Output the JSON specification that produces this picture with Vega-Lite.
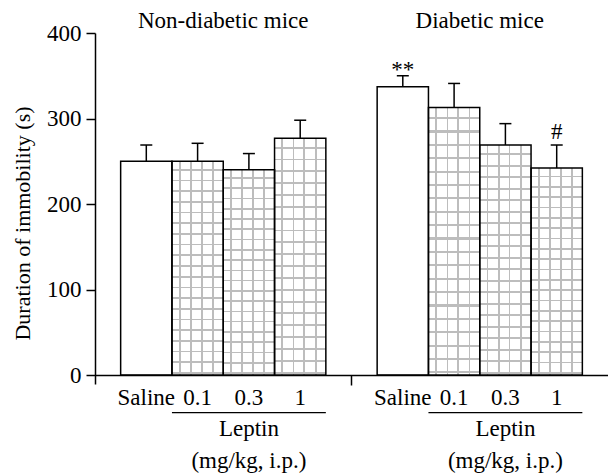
{
  "$schema": "https://vega.github.io/schema/vega-lite/v6.json",
  "width": 513,
  "height": 351,
  "autosize": {"type": "none"},
  "padding": {"left": 95, "top": 33, "right": 0, "bottom": 90},
  "background": "white",
  "config": {
    "font": "Liberation Serif",
    "view": {"stroke": null},
    "text": {"font": "Liberation Serif", "fontSize": 23, "color": "black"}
  },
  "datasets": {
    "bars": [
      {"key": "Non-diabetic: Saline", "group": "Non-diabetic", "treatment": "Saline", "mean": 250, "upper": 269},
      {"key": "Non-diabetic: 0.1", "group": "Non-diabetic", "treatment": "0.1", "mean": 250, "upper": 271},
      {"key": "Non-diabetic: 0.3", "group": "Non-diabetic", "treatment": "0.3", "mean": 240, "upper": 259},
      {"key": "Non-diabetic: 1", "group": "Non-diabetic", "treatment": "1", "mean": 277, "upper": 298},
      {"key": "Diabetic: Saline", "group": "Diabetic", "treatment": "Saline", "mean": 337, "upper": 350, "sig": "**"},
      {"key": "Diabetic: 0.1", "group": "Diabetic", "treatment": "0.1", "mean": 313, "upper": 341},
      {"key": "Diabetic: 0.3", "group": "Diabetic", "treatment": "0.3", "mean": 269, "upper": 294},
      {"key": "Diabetic: 1", "group": "Diabetic", "treatment": "1", "mean": 242, "upper": 269, "sig": "#"}
    ],
    "groups": [
      {"title": "Non-diabetic mice", "first": "Non-diabetic: 0.1", "middle": "Non-diabetic: 0.3", "last": "Non-diabetic: 1", "drug": "Leptin", "unit": "(mg/kg, i.p.)"},
      {"title": "Diabetic mice", "first": "Diabetic: 0.1", "middle": "Diabetic: 0.3", "last": "Diabetic: 1", "drug": "Leptin", "unit": "(mg/kg, i.p.)"}
    ]
  },
  "layer": [
    {
      "data": {"name": "bars"},
      "transform": [{"filter": "datum.treatment != 'Saline'"}],
      "mark": {
        "type": "bar",
        "strokeWidth": 0,
        "fill": {
          "gradient": "linear", "x1": 0, "y1": 0, "x2": 0, "y2": 1,
          "stops": [
            {"offset": 0, "color": "#ffffff"},
            {"offset": 0.036, "color": "#ffffff"}, {"offset": 0.036, "color": "#bdbdbd"}, {"offset": 0.044, "color": "#bdbdbd"}, {"offset": 0.044, "color": "#ffffff"},
            {"offset": 0.086, "color": "#ffffff"}, {"offset": 0.086, "color": "#bdbdbd"}, {"offset": 0.094, "color": "#bdbdbd"}, {"offset": 0.094, "color": "#ffffff"},
            {"offset": 0.136, "color": "#ffffff"}, {"offset": 0.136, "color": "#bdbdbd"}, {"offset": 0.144, "color": "#bdbdbd"}, {"offset": 0.144, "color": "#ffffff"},
            {"offset": 0.186, "color": "#ffffff"}, {"offset": 0.186, "color": "#bdbdbd"}, {"offset": 0.194, "color": "#bdbdbd"}, {"offset": 0.194, "color": "#ffffff"},
            {"offset": 0.236, "color": "#ffffff"}, {"offset": 0.236, "color": "#bdbdbd"}, {"offset": 0.244, "color": "#bdbdbd"}, {"offset": 0.244, "color": "#ffffff"},
            {"offset": 0.286, "color": "#ffffff"}, {"offset": 0.286, "color": "#bdbdbd"}, {"offset": 0.294, "color": "#bdbdbd"}, {"offset": 0.294, "color": "#ffffff"},
            {"offset": 0.336, "color": "#ffffff"}, {"offset": 0.336, "color": "#bdbdbd"}, {"offset": 0.344, "color": "#bdbdbd"}, {"offset": 0.344, "color": "#ffffff"},
            {"offset": 0.386, "color": "#ffffff"}, {"offset": 0.386, "color": "#bdbdbd"}, {"offset": 0.394, "color": "#bdbdbd"}, {"offset": 0.394, "color": "#ffffff"},
            {"offset": 0.436, "color": "#ffffff"}, {"offset": 0.436, "color": "#bdbdbd"}, {"offset": 0.444, "color": "#bdbdbd"}, {"offset": 0.444, "color": "#ffffff"},
            {"offset": 0.486, "color": "#ffffff"}, {"offset": 0.486, "color": "#bdbdbd"}, {"offset": 0.494, "color": "#bdbdbd"}, {"offset": 0.494, "color": "#ffffff"},
            {"offset": 0.536, "color": "#ffffff"}, {"offset": 0.536, "color": "#bdbdbd"}, {"offset": 0.544, "color": "#bdbdbd"}, {"offset": 0.544, "color": "#ffffff"},
            {"offset": 0.586, "color": "#ffffff"}, {"offset": 0.586, "color": "#bdbdbd"}, {"offset": 0.594, "color": "#bdbdbd"}, {"offset": 0.594, "color": "#ffffff"},
            {"offset": 0.636, "color": "#ffffff"}, {"offset": 0.636, "color": "#bdbdbd"}, {"offset": 0.644, "color": "#bdbdbd"}, {"offset": 0.644, "color": "#ffffff"},
            {"offset": 0.686, "color": "#ffffff"}, {"offset": 0.686, "color": "#bdbdbd"}, {"offset": 0.694, "color": "#bdbdbd"}, {"offset": 0.694, "color": "#ffffff"},
            {"offset": 0.736, "color": "#ffffff"}, {"offset": 0.736, "color": "#bdbdbd"}, {"offset": 0.744, "color": "#bdbdbd"}, {"offset": 0.744, "color": "#ffffff"},
            {"offset": 0.786, "color": "#ffffff"}, {"offset": 0.786, "color": "#bdbdbd"}, {"offset": 0.794, "color": "#bdbdbd"}, {"offset": 0.794, "color": "#ffffff"},
            {"offset": 0.836, "color": "#ffffff"}, {"offset": 0.836, "color": "#bdbdbd"}, {"offset": 0.844, "color": "#bdbdbd"}, {"offset": 0.844, "color": "#ffffff"},
            {"offset": 0.886, "color": "#ffffff"}, {"offset": 0.886, "color": "#bdbdbd"}, {"offset": 0.894, "color": "#bdbdbd"}, {"offset": 0.894, "color": "#ffffff"},
            {"offset": 0.936, "color": "#ffffff"}, {"offset": 0.936, "color": "#bdbdbd"}, {"offset": 0.944, "color": "#bdbdbd"}, {"offset": 0.944, "color": "#ffffff"},
            {"offset": 0.986, "color": "#ffffff"}, {"offset": 0.986, "color": "#bdbdbd"}, {"offset": 0.994, "color": "#bdbdbd"}, {"offset": 0.994, "color": "#ffffff"},
            {"offset": 1, "color": "#ffffff"}
          ]
        }
      },
      "encoding": {
        "x": {
          "field": "key", "type": "nominal", "title": null,
          "scale": {
            "domain": ["Non-diabetic: Saline", "Non-diabetic: 0.1", "Non-diabetic: 0.3", "Non-diabetic: 1", "gap", "Diabetic: Saline", "Diabetic: 0.1", "Diabetic: 0.3", "Diabetic: 1"],
            "paddingInner": 0, "paddingOuter": 0.5
          },
          "axis": {
            "title": null,
            "labelExpr": "datum.value == 'gap' ? '' : split(datum.value, ': ')[1]",
            "labelFont": "Liberation Serif", "labelFontSize": 23, "labelColor": "black",
            "labelAngle": 0, "labelPadding": 1, "labelOverlap": false, "labelFlush": false,
            "tickSize": 10, "tickWidth": 1.5, "tickColor": "black",
            "tickOpacity": {"condition": {"test": "datum.value == 'gap'", "value": 1}, "value": 0},
            "domainColor": "black", "domainWidth": 1.5, "offset": -9, "grid": false
          }
        },
        "y": {
          "field": "mean", "type": "quantitative", "title": "Duration of immobility (s)",
          "scale": {"domain": [-10.5, 400], "nice": false, "zero": false},
          "axis": {
            "title": "Duration of immobility (s)",
            "values": [0, 100, 200, 300, 400],
            "tickSize": 9, "tickWidth": 1.5, "tickColor": "black",
            "domainColor": "black", "domainWidth": 1.5,
            "labelFont": "Liberation Serif", "labelFontSize": 23, "labelPadding": 5, "labelColor": "black",
            "titleFont": "Liberation Serif", "titleFontSize": 22, "titleFontWeight": "normal", "titleColor": "black", "titlePadding": 12,
            "titleY": 190,
            "grid": false
          }
        },
        "y2": {"datum": 0}
      }
    },
    {
      "data": {"name": "bars"},
      "transform": [{"filter": "datum.treatment != 'Saline'"}],
      "mark": {
        "type": "bar",
        "strokeWidth": 0,
        "fill": {
          "gradient": "linear", "x1": 0, "y1": 0, "x2": 1, "y2": 0,
          "stops": [
            {"offset": 0, "color": "rgba(255,255,255,0)"},
            {"offset": 0.132, "color": "rgba(255,255,255,0)"}, {"offset": 0.132, "color": "#bdbdbd"}, {"offset": 0.168, "color": "#bdbdbd"}, {"offset": 0.168, "color": "rgba(255,255,255,0)"},
            {"offset": 0.352, "color": "rgba(255,255,255,0)"}, {"offset": 0.352, "color": "#bdbdbd"}, {"offset": 0.388, "color": "#bdbdbd"}, {"offset": 0.388, "color": "rgba(255,255,255,0)"},
            {"offset": 0.562, "color": "rgba(255,255,255,0)"}, {"offset": 0.562, "color": "#bdbdbd"}, {"offset": 0.598, "color": "#bdbdbd"}, {"offset": 0.598, "color": "rgba(255,255,255,0)"},
            {"offset": 0.782, "color": "rgba(255,255,255,0)"}, {"offset": 0.782, "color": "#bdbdbd"}, {"offset": 0.818, "color": "#bdbdbd"}, {"offset": 0.818, "color": "rgba(255,255,255,0)"},
            {"offset": 1, "color": "rgba(255,255,255,0)"}
          ]
        }
      },
      "encoding": {
        "x": {"field": "key", "type": "nominal", "title": null},
        "y": {"field": "mean", "type": "quantitative", "title": "Duration of immobility (s)"},
        "y2": {"datum": 0}
      }
    },
    {
      "data": {"name": "bars"},
      "mark": {"type": "bar", "fill": "white", "fillOpacity": 0, "stroke": "black", "strokeWidth": 1.5},
      "encoding": {
        "x": {"field": "key", "type": "nominal", "title": null},
        "y": {"field": "mean", "type": "quantitative", "title": "Duration of immobility (s)"},
        "y2": {"datum": 0}
      }
    },
    {
      "data": {"name": "bars"},
      "mark": {"type": "rule", "color": "black", "strokeWidth": 1.5},
      "encoding": {
        "x": {"field": "key", "type": "nominal", "title": null},
        "y": {"field": "mean", "type": "quantitative", "title": "Duration of immobility (s)"},
        "y2": {"field": "upper"}
      }
    },
    {
      "data": {"name": "bars"},
      "mark": {"type": "tick", "orient": "horizontal", "size": 12, "thickness": 1.5, "color": "black", "opacity": 1},
      "encoding": {
        "x": {"field": "key", "type": "nominal", "title": null},
        "y": {"field": "upper", "type": "quantitative", "title": "Duration of immobility (s)"}
      }
    },
    {
      "data": {"name": "bars"},
      "transform": [{"filter": "datum.sig == '**'"}],
      "mark": {"type": "text", "baseline": "alphabetic", "dy": 1},
      "encoding": {
        "x": {"field": "key", "type": "nominal", "title": null},
        "y": {"field": "upper", "type": "quantitative", "title": "Duration of immobility (s)"},
        "text": {"field": "sig"}
      }
    },
    {
      "data": {"name": "bars"},
      "transform": [{"filter": "datum.sig == '#'"}],
      "mark": {"type": "text", "baseline": "alphabetic", "dy": -6},
      "encoding": {
        "x": {"field": "key", "type": "nominal", "title": null},
        "y": {"field": "upper", "type": "quantitative", "title": "Duration of immobility (s)"},
        "text": {"field": "sig"}
      }
    },
    {
      "data": {"name": "groups"},
      "mark": {"type": "text", "baseline": "alphabetic"},
      "encoding": {
        "x": {"field": "middle", "type": "nominal", "bandPosition": 0, "title": null},
        "y": {"datum": 406, "type": "quantitative", "title": "Duration of immobility (s)"},
        "text": {"field": "title"}
      }
    },
    {
      "data": {"name": "groups"},
      "mark": {"type": "rule", "color": "black", "strokeWidth": 1.2},
      "encoding": {
        "x": {"field": "first", "type": "nominal", "bandPosition": 0, "title": null},
        "x2": {"field": "last", "bandPosition": 1},
        "y": {"datum": -44, "type": "quantitative", "title": "Duration of immobility (s)"}
      }
    },
    {
      "data": {"name": "groups"},
      "mark": {"type": "text", "baseline": "alphabetic"},
      "encoding": {
        "x": {"field": "middle", "type": "nominal", "title": null},
        "y": {"datum": -71.3, "type": "quantitative", "title": "Duration of immobility (s)"},
        "text": {"field": "drug"}
      }
    },
    {
      "data": {"name": "groups"},
      "mark": {"type": "text", "baseline": "alphabetic"},
      "encoding": {
        "x": {"field": "middle", "type": "nominal", "title": null},
        "y": {"datum": -108.8, "type": "quantitative", "title": "Duration of immobility (s)"},
        "text": {"field": "unit"}
      }
    }
  ]
}
